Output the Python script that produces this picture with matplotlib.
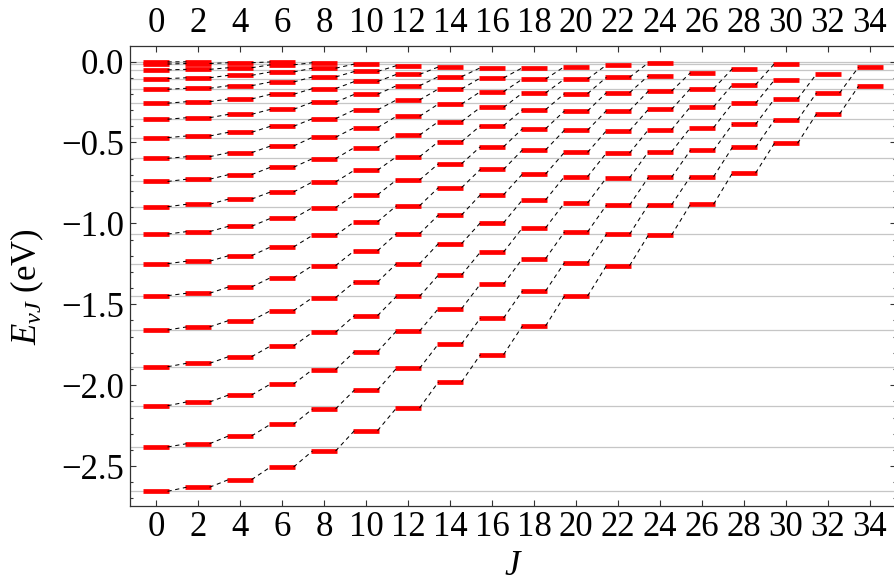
import matplotlib
matplotlib.use('Agg')
import matplotlib.pyplot as plt
from matplotlib.ticker import MultipleLocator, FuncFormatter

plt.rcParams['font.family'] = ['Liberation Serif', 'DejaVu Serif']
plt.rcParams['mathtext.fontset'] = 'custom'
plt.rcParams['mathtext.rm'] = 'Liberation Serif'
plt.rcParams['mathtext.it'] = 'Liberation Serif:italic'

# rotational quantum number J (even values only)
j_vals = [0, 2, 4, 6, 8, 10, 12, 14, 16, 18, 20, 22, 24, 26, 28, 30, 32, 34]

# bound levels E_vJ (eV) for each J, listed from v = 0 upward
e_j00 = [-2.656, -2.382, -2.127, -1.886, -1.659, -1.447, -1.249, -1.066, -0.897, -0.741,
         -0.598, -0.470, -0.356, -0.257, -0.171, -0.105, -0.051, -0.015, -0.002]
e_j02 = [-2.631, -2.362, -2.104, -1.865, -1.640, -1.432, -1.234, -1.051, -0.882, -0.727,
         -0.588, -0.460, -0.347, -0.248, -0.165, -0.100, -0.048, -0.012, -0.001]
e_j04 = [-2.584, -2.314, -2.061, -1.824, -1.601, -1.393, -1.200, -1.018, -0.850, -0.699,
         -0.563, -0.437, -0.326, -0.231, -0.149, -0.085, -0.038, -0.007]
e_j06 = [-2.506, -2.242, -1.993, -1.758, -1.540, -1.336, -1.146, -0.969, -0.806, -0.653,
         -0.522, -0.400, -0.295, -0.202, -0.126, -0.064, -0.020, -0.002]
e_j08 = [-2.407, -2.147, -1.904, -1.673, -1.459, -1.261, -1.074, -0.903, -0.744, -0.600,
         -0.468, -0.353, -0.251, -0.167, -0.095, -0.041, -0.007]
e_j10 = [-2.281, -2.030, -1.793, -1.570, -1.362, -1.169, -0.990, -0.823, -0.671, -0.531,
         -0.408, -0.298, -0.202, -0.123, -0.061, -0.015]
e_j12 = [-2.141, -1.896, -1.665, -1.451, -1.249, -1.064, -0.891, -0.732, -0.588, -0.454,
         -0.338, -0.237, -0.149, -0.079, -0.025]
e_j14 = [-1.980, -1.745, -1.527, -1.319, -1.125, -0.948, -0.779, -0.631, -0.495, -0.371,
         -0.262, -0.169, -0.093, -0.033]
e_j16 = [-1.811, -1.585, -1.375, -1.177, -0.996, -0.823, -0.666, -0.526, -0.396, -0.283,
         -0.186, -0.101, -0.038]
e_j18 = [-1.634, -1.418, -1.218, -1.028, -0.855, -0.695, -0.546, -0.415, -0.297, -0.194,
         -0.108, -0.038]
e_j20 = [-1.449, -1.243, -1.053, -0.874, -0.711, -0.561, -0.424, -0.305, -0.198, -0.108,
         -0.031]
e_j22 = [-1.261, -1.067, -0.887, -0.718, -0.565, -0.427, -0.303, -0.192, -0.097, -0.021]
e_j24 = [-1.072, -0.885, -0.715, -0.557, -0.421, -0.295, -0.182, -0.087, -0.007]
e_j26 = [-0.882, -0.711, -0.548, -0.408, -0.279, -0.167, -0.069]
e_j28 = [-0.689, -0.530, -0.388, -0.258, -0.143, -0.044]
e_j30 = [-0.505, -0.361, -0.231, -0.114, -0.013]
e_j32 = [-0.324, -0.194, -0.077]
e_j34 = [-0.153, -0.035]

levels = [e_j00, e_j02, e_j04, e_j06, e_j08, e_j10, e_j12, e_j14, e_j16,
          e_j18, e_j20, e_j22, e_j24, e_j26, e_j28, e_j30, e_j32, e_j34]

fig = plt.figure(figsize=(8.94, 5.83), dpi=100)
ax = fig.add_axes([130 / 894, 77.3 / 583, 766 / 894, 459.7 / 583])

half = 0.6   # half width of a level bar, in J units
inset = 0.55  # where the connecting dashes meet the bars

# gray reference lines at the J = 0 levels
for e in e_j00:
    ax.axhline(e, color='#c6c6c6', lw=0.9, zorder=1)

# level bars
for J, E in zip(j_vals, levels):
    ax.hlines(E, J - half, J + half, colors='#ff0000', lw=3.4, zorder=3,
              capstyle='butt')

# dashed lines joining the same v across neighbouring J
for i in range(len(j_vals) - 1):
    J1, J2 = j_vals[i], j_vals[i + 1]
    E1, E2 = levels[i], levels[i + 1]
    for v in range(min(len(E1), len(E2))):
        ax.plot([J1 + inset, J2 - inset], [E1[v], E2[v]], color='black',
                lw=0.75, ls=(0, (4, 3.5)), zorder=4)

ax.set_xlim(-1.238, 35.238)
ax.set_ylim(-2.745, 0.0964)

frame = '#333333'
for s in ax.spines.values():
    s.set_color(frame)
    s.set_linewidth(0.9)

ax.set_xticks(j_vals)
ax.yaxis.set_major_locator(MultipleLocator(0.5))
ax.yaxis.set_minor_locator(MultipleLocator(0.1))


def fmt(y, pos):
    s = '%.1f' % y
    if s == '-0.0':
        s = '0.0'
    return s.replace('-', '\u2212')


ax.yaxis.set_major_formatter(FuncFormatter(fmt))

ax.tick_params(axis='x', which='both', direction='in', top=True, labeltop=True,
               length=4, width=0.8, color=frame, labelsize=25, pad=4)
ax.tick_params(axis='y', which='major', direction='in', right=True,
               length=4.5, width=0.8, color=frame, labelsize=25, pad=4)
ax.tick_params(axis='y', which='minor', direction='in', right=True,
               length=2.4, width=0.8, color=frame)

ax.set_xlabel('$J$', fontsize=25)
ax.xaxis.set_label_coords(0.5, -0.097)
ax.set_ylabel(r'$E_{vJ}$ (eV)', fontsize=25)
ax.yaxis.set_label_coords(-0.11, 0.476)

fig.savefig('out.png', dpi=100)
